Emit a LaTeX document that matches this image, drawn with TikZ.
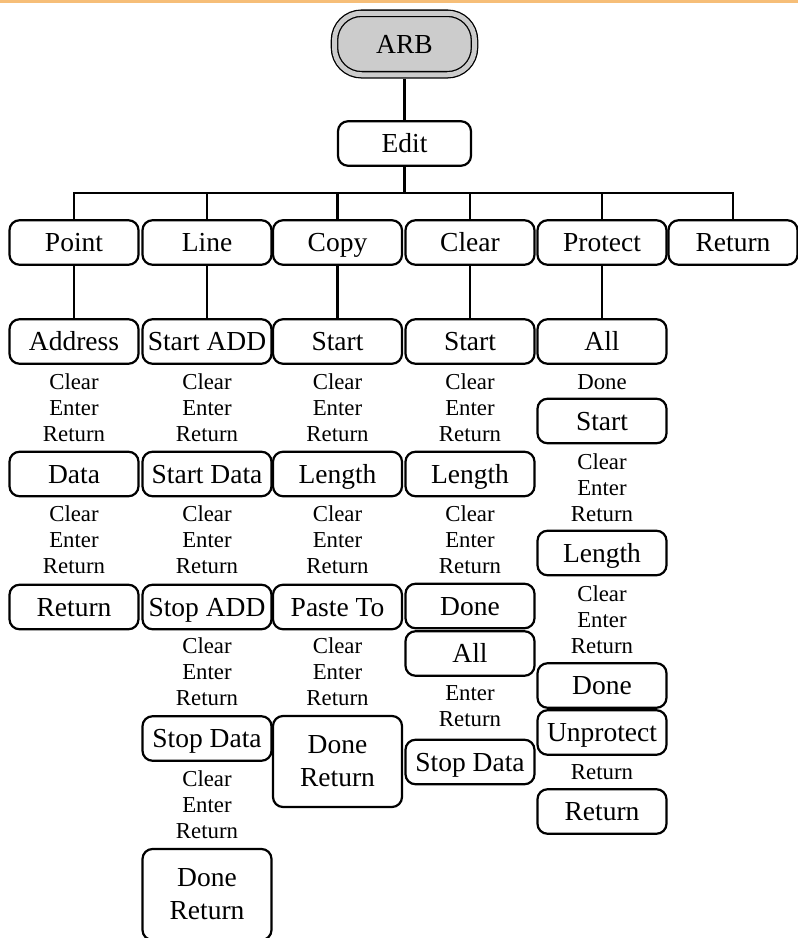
\documentclass[tikz,border=0pt]{standalone}
\usepackage{fontspec}
\setmainfont{Liberation Serif}
\definecolor{topline}{RGB}{246,190,120}
\definecolor{arbgray}{RGB}{204,204,204}
\begin{document}
\begin{tikzpicture}[x=1pt,y=-1pt,
  boxbase/.style={draw, line width=2.2pt, rounded corners=10pt, minimum width=129pt, minimum height=44.5pt, inner sep=0pt, font=\fontsize{27.5}{33}\selectfont},
  menubox/.style={boxbase, text height=21.5pt, text depth=3.5pt},
  tallbox/.style={boxbase, align=center, minimum height=91pt},
  keys/.style={inner sep=0pt, font=\fontsize{22.8}{26}\selectfont, align=center},
  link/.style={line width=2.2pt}]
\useasboundingbox (0,0) rectangle (798,938);
\fill[topline] (0,0) rectangle (798,2.5);

% top
\node[draw, line width=1.3pt, double=arbgray, double distance=5pt, fill=arbgray, rounded corners=27pt, minimum width=140pt, minimum height=61.5pt, inner sep=0pt, font=\fontsize{27.5}{33}\selectfont] (arb) at (404.5,44) {ARB};
\node[menubox, minimum width=133pt] (edit) at (404.5,143.5) {Edit};
\coordinate (bus) at (404.5,193);

% row 1
\node[menubox] (p1) at (74,242.5) {Point};
\node[menubox] (l1) at (207,242.5) {Line};
\node[menubox] (c1) at (337.5,242.5) {Copy};
\node[menubox] (k1) at (470,242.5) {Clear};
\node[menubox] (r1) at (602,242.5) {Protect};
\node[menubox] (t1) at (733,242.5) {Return};

% row 2
\node[menubox] (p2) at (74,341.5) {Address};
\node[menubox] (l2) at (207,341.5) {Start ADD};
\node[menubox] (c2) at (337.5,341.5) {Start};
\node[menubox] (k2) at (470,341.5) {Start};
\node[menubox] (r2) at (602,341.5) {All};

% keys after row 2
\node[keys] (pk1) at (74,408) {Clear\\Enter\\Return};
\node[keys] (lk1) at (207,408) {Clear\\Enter\\Return};
\node[keys] (ck1) at (337.5,408) {Clear\\Enter\\Return};
\node[keys] (kk1) at (470,408) {Clear\\Enter\\Return};
\node[keys] (rk1) at (602,382) {Done};

% row 3
\node[menubox] (p3) at (74,474) {Data};
\node[menubox] (l3) at (207,474) {Start Data};
\node[menubox] (c3) at (337.5,474) {Length};
\node[menubox] (k3) at (470,474) {Length};
\node[menubox] (r3) at (602,421) {Start};

% keys after row 3
\node[keys] (pk2) at (74,540) {Clear\\Enter\\Return};
\node[keys] (lk2) at (207,540) {Clear\\Enter\\Return};
\node[keys] (ck2) at (337.5,540) {Clear\\Enter\\Return};
\node[keys] (kk2) at (470,540) {Clear\\Enter\\Return};
\node[keys] (rk2) at (602,487.5) {Clear\\Enter\\Return};

% row 4
\node[menubox] (p4) at (74,607) {Return};
\node[menubox] (l4) at (207,607) {Stop ADD};
\node[menubox] (c4) at (337.5,607) {Paste To};
\node[menubox] (k4) at (470,606) {Done};
\node[menubox] (r4) at (602,553) {Length};

% further
\node[menubox] (k5) at (470,653.5) {All};
\node[keys] (lk3) at (207,672) {Clear\\Enter\\Return};
\node[keys] (ck3) at (337.5,672) {Clear\\Enter\\Return};
\node[keys] (kk3) at (470,706) {Enter\\Return};
\node[keys] (rk3) at (602,620) {Clear\\Enter\\Return};

\node[menubox] (l5) at (207,738.5) {Stop Data};
\node[tallbox] (c5) at (337.5,761.5) {Done\\Return};
\node[menubox] (k6) at (470,762) {Stop Data};
\node[menubox] (r5) at (602,685.5) {Done};
\node[menubox] (r6) at (602,732.5) {Unprotect};
\node[keys] (rk4) at (602,772) {Return};
\node[menubox] (r7) at (602,811.5) {Return};

\node[keys] (lk4) at (207,805) {Clear\\Enter\\Return};
\node[tallbox] (l6) at (207,894.5) {Done\\Return};

% connectors
\draw[link] ([yshift=-3.5pt]arb.south) -- (edit.north);
\draw[link] (edit.south) -- (bus);
\draw[link] (p1.north) -- (p1.north |- bus) -- (t1.north |- bus) -- (t1.north);
\foreach \n in {l1,c1,k1,r1} \draw[link] (\n.north) -- (\n.north |- bus);
\draw[link] (p1.south) -- (p2.north);
\draw[link] (l1.south) -- (l2.north);
\draw[link] (c1.south) -- (c2.north);
\draw[link] (k1.south) -- (k2.north);
\draw[link] (r1.south) -- (r2.north);
\end{tikzpicture}
\end{document}
